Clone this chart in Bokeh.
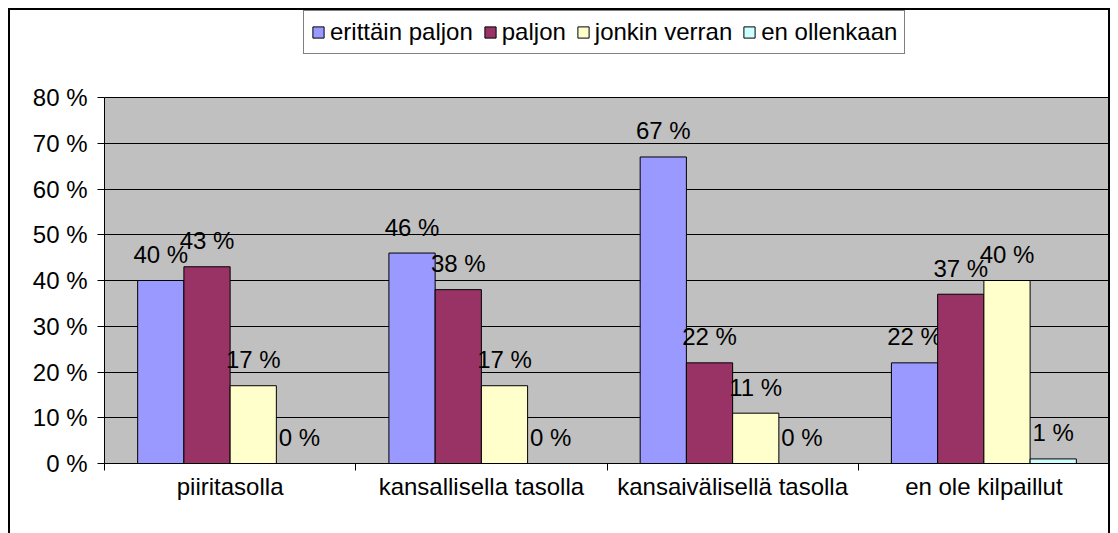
import numpy as np
from bokeh.plotting import figure
from bokeh.models import (Range1d, FixedTicker, PrintfTickFormatter, Legend, LegendItem,
                          ColumnDataSource)
from bokeh.core.properties import value
from bokeh.embed import file_html
from bokeh.resources import INLINE

categories = ["piiritasolla", "kansallisella tasolla", "kansaivälisellä tasolla", "en ole kilpaillut"]
series_names = ["erittäin paljon", "paljon", "jonkin verran", "en ollenkaan"]
erittain_paljon = [40, 46, 67, 22]
paljon = [43, 38, 22, 37]
jonkin_verran = [17, 17, 11, 40]
en_ollenkaan = [0, 0, 0, 1]
series_values = [erittain_paljon, paljon, jonkin_verran, en_ollenkaan]
colors = ["#9999FF", "#993366", "#FFFFCC", "#CCFFFF"]
y_ticks = [0, 10, 20, 30, 40, 50, 60, 70, 80]
y_max = 80

FONT = "Liberation Sans"
FS = "24px"

# frame covers the whole inner height; the grey plot area is the 0..80 band
frame_h = 453
p = figure(width=1102, height=525, output_backend="svg", toolbar_location=None,
           x_range=Range1d(0, len(categories)), y_range=Range1d(0, y_max * frame_h / 366),
           min_border_left=94, min_border_right=3, min_border_top=0, min_border_bottom=72)
p.background_fill_color = "white"
p.border_fill_color = "white"
p.outline_line_color = None

p.quad(left=0, right=len(categories), bottom=0, top=y_max, fill_color="#C0C0C0",
       line_color="#808080", line_width=1, level="image")

centers = np.arange(len(categories)) + 0.5
bw = 0.184
items = []
for j, (name, vals, col) in enumerate(zip(series_names, series_values, colors)):
    xs = centers + (j - 1.5) * bw
    src = ColumnDataSource(dict(x=xs, top=vals, lbl=[f"{v} %" for v in vals]))
    r = p.vbar(x="x", top="top", width=bw, bottom=0, source=src,
               fill_color=col, line_color="black", line_width=1)
    p.text(x="x", y="top", text="lbl", source=src, text_align="center",
           text_baseline="alphabetic", y_offset=-26, text_font=value(FONT),
           text_font_size=FS, text_color="black")
    items.append(LegendItem(label=name, renderers=[r]))

# axes
p.yaxis.ticker = FixedTicker(ticks=y_ticks)
p.yaxis.bounds = (0, y_max)
p.yaxis.formatter = PrintfTickFormatter(format="%d %%")
p.yaxis.major_tick_in = 0
p.yaxis.major_tick_out = 7
p.yaxis.minor_tick_out = 0
p.yaxis.minor_tick_in = 0
p.yaxis.major_label_standoff = 10
p.yaxis.axis_line_color = "black"
p.yaxis.major_tick_line_color = "black"
p.yaxis.major_label_text_font = FONT
p.yaxis.major_label_text_font_size = FS
p.yaxis.major_label_text_color = "black"

p.xaxis.ticker = FixedTicker(ticks=list(centers), minor_ticks=list(range(len(categories) + 1)))
p.xaxis.major_label_overrides = {float(c): lab for c, lab in zip(centers, categories)}
p.xaxis.major_tick_in = 0
p.xaxis.major_tick_out = 0
p.xaxis.minor_tick_in = 0
p.xaxis.minor_tick_out = 7
p.xaxis.minor_tick_line_color = "black"
p.xaxis.axis_line_color = "black"
p.xaxis.major_label_standoff = 2
p.xaxis.major_label_text_font = FONT
p.xaxis.major_label_text_font_size = FS
p.xaxis.major_label_text_color = "black"

p.xgrid.visible = False
p.ygrid.ticker = FixedTicker(ticks=y_ticks)
p.ygrid.grid_line_color = "black"
p.ygrid.grid_line_width = 1

legend = Legend(items=items, orientation="horizontal", location=(199, 409),
                label_text_font=FONT, label_text_font_size=FS, label_text_color="black",
                glyph_width=14, glyph_height=14, label_standoff=5, spacing=10,
                padding=7, margin=0, border_line_color="black", border_line_width=1,
                background_fill_color="white", background_fill_alpha=1,
                label_height=20)
p.add_layout(legend, "center")

p.styles = {"margin-left": "8px", "margin-top": "8px",
            "border-left": "2px solid black", "border-top": "2px solid black",
            "border-right": "2px solid black"}

open("out.html", "w").write(file_html(p, INLINE))
